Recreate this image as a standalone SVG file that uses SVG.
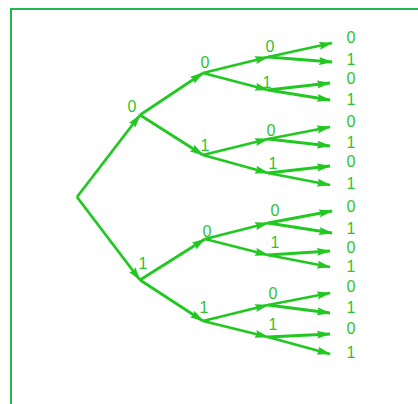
<svg xmlns="http://www.w3.org/2000/svg" width="418" height="404" viewBox="0 0 418 404">
<style>
.e{stroke:#22c822;stroke-width:2.8;fill:none;marker-end:url(#ah)}
.t{font-family:"Liberation Sans",Arial,sans-serif;font-size:16px;fill:#2ec42e;text-anchor:middle}
</style>
<defs>
<marker id="ah" markerUnits="userSpaceOnUse" markerWidth="14" markerHeight="8" refX="13" refY="4" orient="auto">
<path d="M0,0 L14,4 L0,8 L2,4 z" fill="#22c822"/>
</marker>
</defs>
<rect width="418" height="404" fill="#fff"/>
<rect x="11" y="9" width="420" height="410" fill="none" stroke="#1fb850" stroke-width="2"/>
<g id="connectors">
<line class="e" x1="77" y1="197" x2="140" y2="115"/>
<line class="e" x1="77" y1="197" x2="140" y2="280"/>
<line class="e" x1="140" y1="115" x2="203" y2="73"/>
<line class="e" x1="140" y1="115" x2="203" y2="155"/>
<line class="e" x1="140" y1="280" x2="205" y2="239"/>
<line class="e" x1="140" y1="280" x2="203" y2="321"/>
<line class="e" x1="203" y1="73" x2="268" y2="57"/>
<line class="e" x1="203" y1="73" x2="268" y2="90"/>
<line class="e" x1="203" y1="155" x2="268" y2="139"/>
<line class="e" x1="203" y1="155" x2="268" y2="173"/>
<line class="e" x1="205" y1="239" x2="268" y2="223"/>
<line class="e" x1="205" y1="239" x2="268" y2="255"/>
<line class="e" x1="203" y1="321" x2="268" y2="305"/>
<line class="e" x1="203" y1="321" x2="268" y2="337"/>
<line class="e" x1="268" y1="57" x2="332" y2="43"/>
<line class="e" x1="268" y1="57" x2="332" y2="62"/>
<line class="e" x1="268" y1="90" x2="330" y2="83"/>
<line class="e" x1="268" y1="90" x2="330" y2="100"/>
<line class="e" x1="268" y1="139" x2="330" y2="127"/>
<line class="e" x1="268" y1="139" x2="330" y2="146"/>
<line class="e" x1="268" y1="173" x2="330" y2="166"/>
<line class="e" x1="268" y1="173" x2="330" y2="185"/>
<line class="e" x1="268" y1="223" x2="332" y2="211"/>
<line class="e" x1="268" y1="223" x2="332" y2="233"/>
<line class="e" x1="268" y1="255" x2="330" y2="251"/>
<line class="e" x1="268" y1="255" x2="330" y2="267"/>
<line class="e" x1="268" y1="305" x2="330" y2="293"/>
<line class="e" x1="268" y1="305" x2="330" y2="313"/>
<line class="e" x1="268" y1="337" x2="330" y2="334"/>
<line class="e" x1="268" y1="337" x2="330" y2="354"/>
</g>
<g id="n-root"></g>
<g id="n-0"><text class="t" x="132" y="112">0</text></g>
<g id="n-1"><text class="t" x="143" y="269">1</text></g>
<g id="n-00"><text class="t" x="205" y="68">0</text></g>
<g id="n-01"><text class="t" x="205" y="151">1</text></g>
<g id="n-10"><text class="t" x="207" y="237">0</text></g>
<g id="n-11"><text class="t" x="204" y="313">1</text></g>
<g id="n-000"><text class="t" x="270" y="52">0</text></g>
<g id="n-001"><text class="t" x="267" y="88">1</text></g>
<g id="n-010"><text class="t" x="271" y="136">0</text></g>
<g id="n-011"><text class="t" x="273" y="169">1</text></g>
<g id="n-100"><text class="t" x="275" y="216">0</text></g>
<g id="n-101"><text class="t" x="275" y="248">1</text></g>
<g id="n-110"><text class="t" x="273" y="299">0</text></g>
<g id="n-111"><text class="t" x="273" y="330">1</text></g>
<g id="leaves">
<text class="t" x="351" y="43">0</text>
<text class="t" x="351" y="65">1</text>
<text class="t" x="351" y="84">0</text>
<text class="t" x="351" y="105">1</text>
<text class="t" x="351" y="127">0</text>
<text class="t" x="351" y="148">1</text>
<text class="t" x="351" y="167">0</text>
<text class="t" x="351" y="189">1</text>
<text class="t" x="351" y="212">0</text>
<text class="t" x="351" y="234">1</text>
<text class="t" x="351" y="253">0</text>
<text class="t" x="351" y="272">1</text>
<text class="t" x="351" y="292">0</text>
<text class="t" x="351" y="313">1</text>
<text class="t" x="351" y="334">0</text>
<text class="t" x="351" y="358">1</text>
</g>
</svg>
